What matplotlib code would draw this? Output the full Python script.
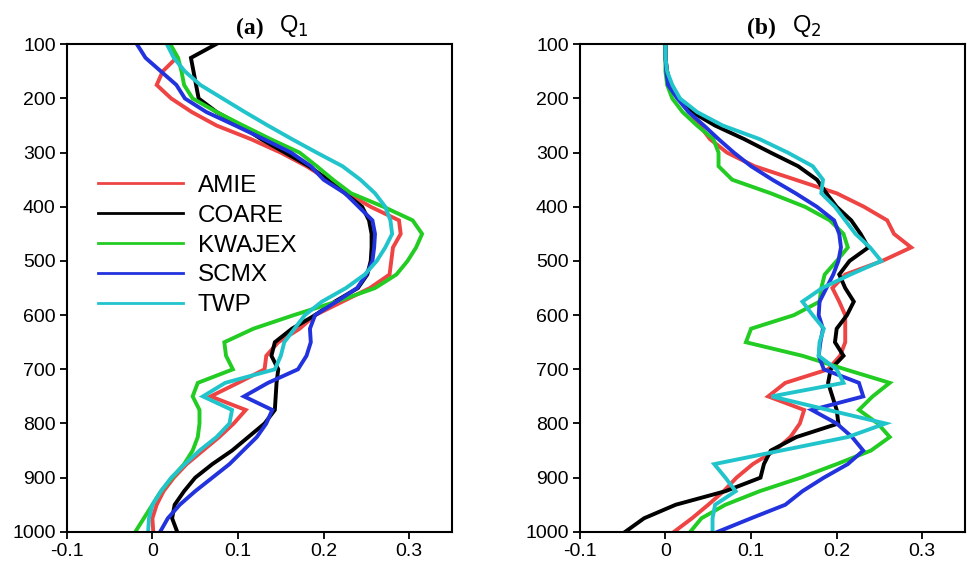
import numpy as np
import matplotlib
matplotlib.use('Agg')
import matplotlib.pyplot as plt

plt.rcParams['font.family'] = ['Liberation Sans', 'DejaVu Sans']
plt.rcParams['axes.unicode_minus'] = False

# niveles de presion (hPa)
pres = [100, 125, 150, 175, 200, 225, 250, 275, 300, 325, 350, 375, 400, 425, 450,
        475, 500, 525, 550, 575, 600, 625, 650, 675, 700, 725, 750, 775, 800, 825,
        850, 875, 900, 925, 950, 975, 1000]

names = ['AMIE', 'COARE', 'KWAJEX', 'SCMX', 'TWP']
colors = ['#ee4444', '#000000', '#22cc22', '#2233dd', '#22c4cc']

# (a) Q1
q1_amie = [0.020, 0.028, 0.012, 0.005, 0.022, 0.046, 0.075, 0.115, 0.150, 0.180, 0.205, 0.228, 0.255,
           0.288, 0.290, 0.281, 0.279, 0.277, 0.254, 0.222, 0.190, 0.172, 0.147, 0.133, 0.131, 0.100,
           0.068, 0.109, 0.095, 0.078, 0.059, 0.040, 0.025, 0.013, 0.005, 0.000, 0.001]
q1_coare = [0.074, 0.045, 0.048, 0.051, 0.054, 0.075, 0.103, 0.127, 0.155, 0.183, 0.205, 0.225, 0.245,
            0.253, 0.256, 0.256, 0.255, 0.251, 0.240, 0.213, 0.190, 0.163, 0.143, 0.139, 0.147, 0.145,
            0.144, 0.143, 0.131, 0.112, 0.093, 0.070, 0.050, 0.037, 0.026, 0.023, 0.029]
q1_kwajex = [0.021, 0.030, 0.034, 0.037, 0.047, 0.075, 0.106, 0.138, 0.172, 0.192, 0.211, 0.232, 0.270,
             0.304, 0.315, 0.308, 0.298, 0.285, 0.260, 0.215, 0.165, 0.118, 0.084, 0.086, 0.094, 0.053,
             0.047, 0.055, 0.055, 0.053, 0.047, 0.037, 0.023, 0.010, 0.000, -0.010, -0.020]
q1_scmx = [-0.018, -0.008, 0.010, 0.028, 0.038, 0.063, 0.097, 0.130, 0.162, 0.185, 0.200, 0.225, 0.241,
           0.257, 0.260, 0.259, 0.257, 0.250, 0.239, 0.215, 0.190, 0.184, 0.185, 0.180, 0.170, 0.135,
           0.107, 0.140, 0.133, 0.122, 0.106, 0.090, 0.070, 0.050, 0.032, 0.018, 0.009]
q1_twp = [0.017, 0.025, 0.038, 0.056, 0.082, 0.108, 0.135, 0.163, 0.192, 0.222, 0.243, 0.260, 0.272,
          0.278, 0.280, 0.272, 0.262, 0.248, 0.226, 0.198, 0.178, 0.166, 0.154, 0.150, 0.143, 0.085,
          0.059, 0.093, 0.090, 0.075, 0.055, 0.038, 0.022, 0.010, 0.000, -0.004, -0.005]

# (b) Q2
q2_amie = [0.000, 0.000, 0.002, 0.006, 0.016, 0.028, 0.040, 0.052, 0.072, 0.104, 0.152, 0.200, 0.232,
           0.259, 0.267, 0.287, 0.253, 0.210, 0.195, 0.203, 0.210, 0.210, 0.210, 0.204, 0.190, 0.140,
           0.120, 0.162, 0.157, 0.146, 0.128, 0.102, 0.083, 0.068, 0.050, 0.031, 0.010]
q2_coare = [0.000, 0.000, 0.002, 0.005, 0.015, 0.031, 0.058, 0.092, 0.123, 0.155, 0.177, 0.188, 0.200,
            0.217, 0.228, 0.237, 0.215, 0.203, 0.210, 0.220, 0.212, 0.200, 0.198, 0.208, 0.193, 0.190,
            0.195, 0.200, 0.202, 0.153, 0.123, 0.115, 0.111, 0.070, 0.012, -0.025, -0.047]
q2_kwajex = [0.000, 0.000, 0.000, 0.002, 0.008, 0.020, 0.037, 0.056, 0.062, 0.062, 0.078, 0.123, 0.163,
             0.192, 0.208, 0.213, 0.200, 0.186, 0.182, 0.180, 0.150, 0.100, 0.094, 0.160, 0.210, 0.262,
             0.242, 0.226, 0.248, 0.262, 0.240, 0.200, 0.158, 0.110, 0.070, 0.042, 0.029]
q2_scmx = [0.000, 0.000, 0.001, 0.003, 0.014, 0.027, 0.045, 0.062, 0.080, 0.100, 0.125, 0.152, 0.177,
           0.197, 0.203, 0.205, 0.202, 0.196, 0.188, 0.180, 0.179, 0.184, 0.181, 0.179, 0.185, 0.226,
           0.231, 0.171, 0.200, 0.218, 0.231, 0.213, 0.185, 0.160, 0.140, 0.100, 0.061]
q2_twp = [0.000, 0.000, 0.002, 0.008, 0.017, 0.037, 0.067, 0.110, 0.143, 0.172, 0.184, 0.182, 0.198,
          0.210, 0.222, 0.239, 0.252, 0.216, 0.183, 0.160, 0.172, 0.185, 0.180, 0.179, 0.200, 0.208,
          0.124, 0.190, 0.257, 0.213, 0.135, 0.057, 0.070, 0.082, 0.058, 0.055, 0.055]

q1 = [q1_amie, q1_coare, q1_kwajex, q1_scmx, q1_twp]
q2 = [q2_amie, q2_coare, q2_kwajex, q2_scmx, q2_twp]

xticks = [-0.1, 0, 0.1, 0.2, 0.3]
xtick_labels = ['-0.1', '0', '0.1', '0.2', '0.3']
yticks = [100, 200, 300, 400, 500, 600, 700, 800, 900, 1000]

fig = plt.figure(figsize=(9.68, 5.61), dpi=100)
ax1 = fig.add_axes([0.069, 0.052, 0.398, 0.869])
ax2 = fig.add_axes([0.599, 0.052, 0.398, 0.869])

for ax, data, tag, sub in [(ax1, q1, '(a)', '1'), (ax2, q2, '(b)', '2')]:
    for vals, name, c in zip(data, names, colors):
        ax.plot(vals, pres, color=c, lw=2.8, label=name, solid_joinstyle='miter')
    ax.set_xlim(-0.1, 0.35)
    ax.set_ylim(1000, 100)
    ax.set_xticks(xticks)
    ax.set_xticklabels(xtick_labels)
    ax.set_yticks(yticks)
    ax.tick_params(labelsize=14, length=5, width=1.3, direction='out', pad=3)
    for s in ax.spines.values():
        s.set_linewidth(1.5)
    # titulo: (a) en negrita serif, Q con subindice
    ax.text(0.51, 1.01, tag, transform=ax.transAxes, ha='right', va='bottom',
            fontsize=17, fontweight='bold', family='Liberation Serif')
    ax.text(0.55, 1.01, 'Q$_{' + sub + '}$', transform=ax.transAxes, ha='left', va='bottom',
            fontsize=17)

leg = ax1.legend(loc='upper left', bbox_to_anchor=(0.05, 0.757), frameon=False,
                 fontsize=17.5, handlelength=3.5, handletextpad=0.6, labelspacing=0.32,
                 borderpad=0)
for h in leg.get_lines():
    h.set_linewidth(2.0)

plt.savefig('out.png', dpi=100)
